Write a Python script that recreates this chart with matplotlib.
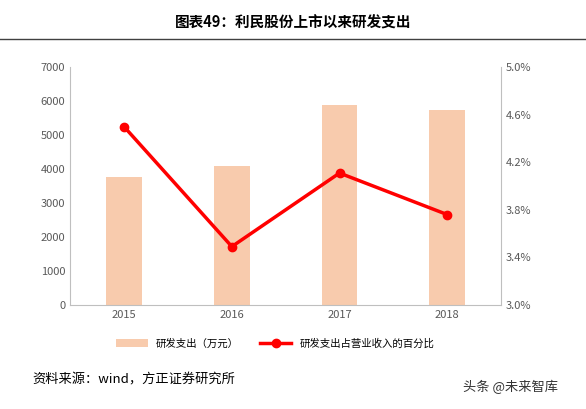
import matplotlib
matplotlib.use("Agg")
import matplotlib.pyplot as plt
from matplotlib.ticker import FuncFormatter

plt.rcParams['font.family'] = ['Noto Sans CJK SC', 'DejaVu Sans']

years = ['2015', '2016', '2017', '2018']
rd_spend = [3770, 4080, 5880, 5740]
rd_ratio = [4.50, 3.49, 4.11, 3.76]

fig = plt.figure(figsize=(5.86, 4.09), dpi=100)
ax = fig.add_axes([0.12, 0.255, 0.735, 0.58])
ax2 = ax.twinx()

x = range(len(years))
ax.bar(x, rd_spend, width=0.33, color='#F8CBAD', label='研发支出（万元）', zorder=2)
ax2.plot(x, rd_ratio, color='#FF0000', lw=2.5, marker='o', ms=6, label='研发支出占营业收入的百分比')

ax.set_ylim(0, 7000)
ax.set_yticks(range(0, 7001, 1000))
ax2.set_ylim(3.0, 5.0)
ax2.set_yticks([3.0, 3.4, 3.8, 4.2, 4.6, 5.0])
ax2.yaxis.set_major_formatter(FuncFormatter(lambda v, p: f'{v:.1f}%'))
ax.set_xticks(list(x))
ax.set_xticklabels(years)
ax.set_xlim(-0.5, 3.5)

for a in (ax, ax2):
    for s in a.spines.values():
        s.set_visible(False)
    a.tick_params(length=0, labelsize=8, colors='#595959')
ax.spines['bottom'].set_visible(True)
ax.spines['bottom'].set_color('#BFBFBF')
ax.spines['left'].set_visible(True)
ax.spines['left'].set_color('#BFBFBF')
ax2.spines['right'].set_visible(True)
ax2.spines['right'].set_color('#BFBFBF')

h1, l1 = ax.get_legend_handles_labels()
h2, l2 = ax2.get_legend_handles_labels()
fig.legend(h1 + h2, l1 + l2, loc='center', bbox_to_anchor=(0.47, 0.16), ncol=2,
           frameon=False, fontsize=7.5, handlelength=3, columnspacing=2)

fig.text(0.5, 0.945, '图表49：利民股份上市以来研发支出', ha='center', va='center',
         fontsize=10.5, fontweight='bold')
fig.add_artist(plt.Line2D([0.0, 1.0], [0.905, 0.905], color='#404040', lw=1))
fig.text(0.055, 0.063, '资料来源：wind，方正证券研究所', fontsize=9.5, style='italic')
fig.text(0.79, 0.045, '头条 @未来智库', fontsize=9.5, color='#333333')

fig.savefig('out.png', dpi=100)
